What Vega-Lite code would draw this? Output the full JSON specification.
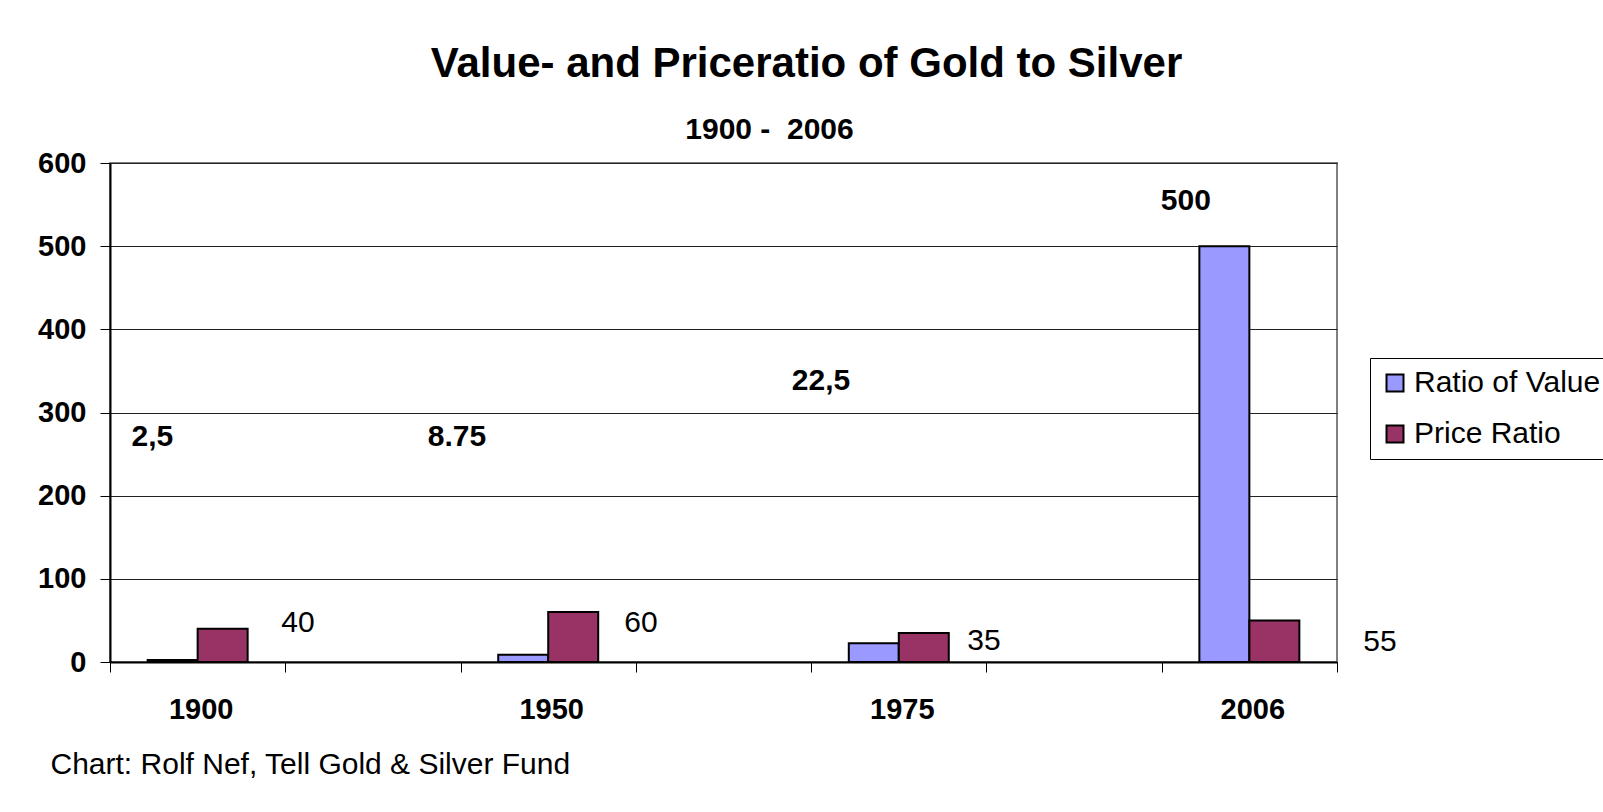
{
  "$schema": "https://vega.github.io/schema/vega-lite/v6.json",
  "autosize": {"type": "none"},
  "width": 1227,
  "height": 499,
  "padding": {"left": 110, "top": 163, "right": 266, "bottom": 150},
  "background": "white",
  "config": {
    "font": "Liberation Sans",
    "view": {"stroke": "#808080", "strokeWidth": 2}
  },
  "title": {
    "text": "Value- and Priceratio of Gold to Silver",
    "fontSize": 42,
    "fontWeight": "bold",
    "color": "black",
    "anchor": "middle",
    "dx": 83,
    "baseline": "alphabetic",
    "offset": -5
  },
  "datasets": {
    "bars": [
      {"year": "1900", "series": "Ratio of Value", "ratio": 2.5},
      {"year": "1900", "series": "Price Ratio", "ratio": 40},
      {"year": "1950", "series": "Ratio of Value", "ratio": 8.75},
      {"year": "1950", "series": "Price Ratio", "ratio": 60},
      {"year": "1975", "series": "Ratio of Value", "ratio": 22.5},
      {"year": "1975", "series": "Price Ratio", "ratio": 35},
      {"year": "2006", "series": "Ratio of Value", "ratio": 500},
      {"year": "2006", "series": "Price Ratio", "ratio": 50}
    ],
    "labels": [
      {"label": "2,5", "series": "Ratio of Value", "slot": 0.242, "at": 260},
      {"label": "8.75", "series": "Ratio of Value", "slot": 1.979, "at": 260},
      {"label": "22,5", "series": "Ratio of Value", "slot": 4.056, "at": 327},
      {"label": "500", "series": "Ratio of Value", "slot": 6.138, "at": 543},
      {"label": "40", "series": "Price Ratio", "slot": 1.072, "at": 36.4},
      {"label": "60", "series": "Price Ratio", "slot": 3.029, "at": 36.4},
      {"label": "35", "series": "Price Ratio", "slot": 4.986, "at": 14.8},
      {"label": "55", "series": "Price Ratio", "slot": 7.245, "at": 13.6}
    ]
  },
  "layer": [
    {
      "data": {"name": "bars"},
      "mark": {"type": "bar", "stroke": "black", "strokeWidth": 2},
      "encoding": {
        "x": {
          "field": "year",
          "type": "nominal",
          "scale": {
            "domain": ["1900", " ", "1950", "  ", "1975", "   ", "2006"],
            "paddingInner": 0,
            "paddingOuter": 0
          },
          "axis": {
            "title": "Chart: Rolf Nef, Tell Gold & Silver Fund",
            "titleFontSize": 30,
            "titleFontWeight": "normal",
            "titleColor": "black",
            "titleX": -60,
            "titleY": 111,
            "titleAlign": "left",
            "titleBaseline": "alphabetic",
            "tickBand": "extent",
            "tickSize": 10,
            "tickColor": "black",
            "tickWidth": 1,
            "domainColor": "black",
            "domainWidth": 2,
            "labelAngle": 0,
            "labelFontSize": 29,
            "labelFontWeight": "bold",
            "labelColor": "black",
            "labelBaseline": "alphabetic",
            "labelPadding": 46,
            "labelOffset": 3,
            "grid": false
          }
        },
        "xOffset": {
          "field": "series",
          "type": "nominal",
          "scale": {
            "domain": ["Ratio of Value", "Price Ratio"],
            "paddingInner": 0,
            "paddingOuter": 0.753
          }
        },
        "y": {
          "field": "ratio",
          "type": "quantitative",
          "scale": {"domain": [0, 600], "nice": false},
          "axis": {
            "title": null,
            "values": [0, 100, 200, 300, 400, 500, 600],
            "labelFontSize": 29,
            "labelFontWeight": "bold",
            "labelColor": "black",
            "labelPadding": 14,
            "tickSize": 10,
            "tickColor": "black",
            "domainColor": "black",
            "domainWidth": 2,
            "gridColor": "#222222",
            "gridWidth": 1,
            "gridOpacity": 1
          }
        },
        "color": {
          "field": "series",
          "type": "nominal",
          "scale": {
            "domain": ["Ratio of Value", "Price Ratio"],
            "range": ["#9999FF", "#993366"]
          },
          "legend": {
            "title": null,
            "orient": "none",
            "legendX": 1260,
            "legendY": 195,
            "padding": 10,
            "strokeColor": "black",
            "fillColor": "white",
            "symbolType": "square",
            "symbolSize": 289,
            "symbolStrokeColor": "black",
            "symbolStrokeWidth": 2,
            "symbolOpacity": 1,
            "labelFontSize": 30,
            "labelColor": "black",
            "labelOffset": 4,
            "rowPadding": 21,
            "labelLimit": 400
          }
        }
      }
    },
    {
      "data": {"name": "labels"},
      "transform": [{"filter": "datum.series === 'Ratio of Value'"}],
      "mark": {"type": "text", "fontSize": 30, "fontWeight": "bold", "baseline": "alphabetic", "align": "center", "color": "black"},
      "encoding": {
        "x": {
          "field": "slot",
          "type": "quantitative",
          "scale": {"domain": [0, 7], "nice": false, "zero": false},
          "axis": {
            "orient": "top",
            "title": "1900 - \u00a02006",
            "titleFontSize": 30,
            "titleFontWeight": "bold",
            "titleColor": "black",
            "titleX": 659,
            "titleY": -25,
            "titleAlign": "center",
            "titleBaseline": "alphabetic",
            "labels": false,
            "ticks": false,
            "domain": false,
            "grid": false
          }
        },
        "y": {"field": "at", "type": "quantitative"},
        "text": {"field": "label", "type": "nominal"}
      }
    },
    {
      "data": {"name": "labels"},
      "transform": [{"filter": "datum.series === 'Price Ratio'"}],
      "mark": {"type": "text", "fontSize": 30, "fontWeight": "normal", "baseline": "alphabetic", "align": "center", "color": "black"},
      "encoding": {
        "x": {
          "field": "slot",
          "type": "quantitative",
          "scale": {"domain": [0, 7], "nice": false, "zero": false},
          "axis": null
        },
        "y": {"field": "at", "type": "quantitative"},
        "text": {"field": "label", "type": "nominal"}
      }
    }
  ],
  "resolve": {"scale": {"x": "independent"}, "axis": {"x": "independent"}}
}
